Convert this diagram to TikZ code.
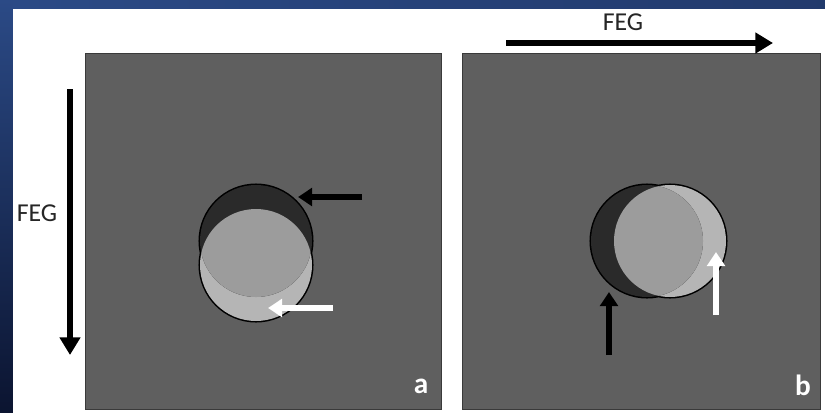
\documentclass[tikz,border=0pt]{standalone}
\usepackage{fontspec}
\setmainfont{Carlito}
\usepackage{xcolor}
\usetikzlibrary{
    arrows.meta,
    positioning
}
\definecolor{slideblue}{HTML}{2B4A86}
\definecolor{slidenavy}{HTML}{0B1430}
\definecolor{panelgray}{HTML}{5F5F5F}
\definecolor{paneledge}{HTML}{3A3A3A}
\definecolor{signalvoid}{HTML}{2A2A2A}
\definecolor{signalpile}{HTML}{B5B5B5}
\definecolor{signalmid}{HTML}{9C9C9C}
\tikzset{
    panel/.style={
        fill=panelgray,
        draw=paneledge,
        line width=0.8pt
    }
}
\tikzset{
    rim/.style={
        draw=black,
        line width=2.6pt
    }
}
\tikzset{
    feg/.style={
        draw=black,
        line width=5pt,
        -{Triangle[length=15pt,width=17pt]}
    }
}
\tikzset{
    marker/.style={
        line width=4.5pt,
        -{Triangle[length=12pt,width=15pt]}
    }
}
\tikzset{
    fegtext/.style={
        font=\fontsize{22}{22}\selectfont,
        text=black!85
    }
}
\tikzset{
    panellabel/.style={
        font=\fontsize{25}{25}\selectfont\bfseries,
        text=white
    }
}
\newcommand{\rad}{16.8mm}

\begin{document}
\begin{tikzpicture}[
    x=0.3mm,
    y=-0.3mm
]

% ------------------------------------------------------------
% Slide background
% ------------------------------------------------------------

\useasboundingbox (0,0) rectangle (825,413);
\shade[top color=slideblue, bottom color=slidenavy] (0,0) rectangle (825,413);
\shade[left color=slideblue, right color=slideblue!70!slidenavy] (13,0) rectangle (825,9);
\fill[white] (13,9) rectangle (825,413);

% ------------------------------------------------------------
% Panel (a): gradient along y
% ------------------------------------------------------------

\draw[panel] (85,53) rectangle (441,409);
\draw[rim] (256,241) circle[radius=\rad] (256,265) circle[radius=\rad];
\fill[signalpile] (256,265) circle[radius=\rad];
\fill[signalvoid] (256,241) circle[radius=\rad];
\begin{scope}
    \clip (256,241) circle[radius=\rad];
    \fill[signalmid] (256,265) circle[radius=\rad];
\end{scope}
\coordinate (ka0) at (362,197);
\coordinate (ka1) at (298,197);
\coordinate (wa0) at (333,308);
\coordinate (wa1) at (268,308);
\draw[marker, draw=black] (ka0) -- (ka1);
\draw[marker, draw=white] (wa0) -- (wa1);
\node[panellabel] (la) at (421,386) {a};

% ------------------------------------------------------------
% Panel (b): gradient along x
% ------------------------------------------------------------

\draw[panel] (462,53) rectangle (820,409);
\draw[rim] (647,241) circle[radius=\rad] (670,241) circle[radius=\rad];
\fill[signalpile] (670,241) circle[radius=\rad];
\fill[signalvoid] (647,241) circle[radius=\rad];
\begin{scope}
    \clip (647,241) circle[radius=\rad];
    \fill[signalmid] (670,241) circle[radius=\rad];
\end{scope}
\coordinate (kb0) at (609,355);
\coordinate (kb1) at (609,292);
\coordinate (wb0) at (716,315);
\coordinate (wb1) at (716,252);
\draw[marker, draw=black] (kb0) -- (kb1);
\draw[marker, draw=white] (wb0) -- (wb1);
\node[panellabel] (lb) at (803,385) {b};

% ------------------------------------------------------------
% Gradient directions
% ------------------------------------------------------------

\coordinate (fa0) at (70,89);
\coordinate (fa1) at (70,355);
\draw[feg] (fa0) -- (fa1);
\node[fegtext] (ta) at (37,213) {FEG};
\coordinate (fb0) at (506,43);
\coordinate (fb1) at (773,43);
\draw[feg] (fb0) -- (fb1);
\node[fegtext] (tb) at (623,22) {FEG};

\end{tikzpicture}
\end{document}
